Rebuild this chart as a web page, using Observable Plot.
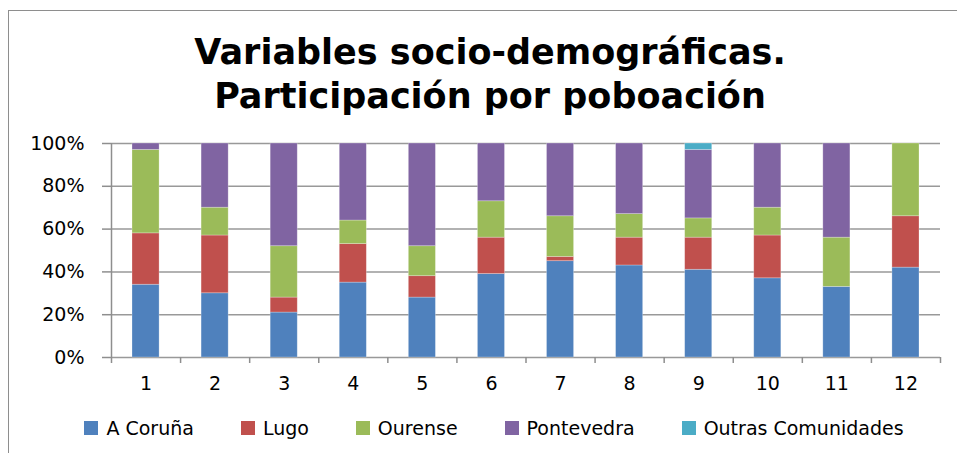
<!DOCTYPE html>
<html>
<head>
<meta charset="utf-8">
<script src="https://cdn.jsdelivr.net/npm/d3@7"></script>
<script src="https://cdn.jsdelivr.net/npm/@observablehq/plot@0.6"></script>
<style>
  html, body { margin: 0; padding: 0; background: #fff; }
  #wrap { position: relative; width: 957px; height: 453px; overflow: hidden; font-family: "DejaVu Sans", sans-serif; }
  #frame { position: absolute; left: 8px; top: 10px; width: 1000px; height: 500px; border-left: 1.5px solid #8e8e8e; border-top: 1.5px solid #8e8e8e; }
  #title { position: absolute; left: 0; top: 30px; width: 980px; text-align: center; font-weight: bold; font-size: 35px; line-height: 44px; color: #000; }
  #chart { position: absolute; left: 0; top: 0; }
  #legend { position: absolute; left: 0; top: 417px; width: 988px; display: flex; justify-content: center; gap: 47px; font-size: 19px; color: #000; align-items: center; }
  .item { display: flex; align-items: center; }
  .sw { width: 14px; height: 14px; margin-right: 8px; }
</style>
</head>
<body>
<div id="wrap">
  <div id="frame"></div>
  <div id="title">Variables socio-demográficas.<br>Participación por poboación</div>
  <div id="chart"></div>
  <div id="legend"></div>
</div>
<script>
const poblacions = [1, 2, 3, 4, 5, 6, 7, 8, 9, 10, 11, 12];
const provincias = ["A Coruña", "Lugo", "Ourense", "Pontevedra", "Outras Comunidades"];
const colores = ["#4F81BD", "#C0504D", "#9BBB59", "#8064A2", "#4BACC6"];
const coruna     = [34, 30, 21, 35, 28, 39, 45, 43, 41, 37, 33, 42];
const lugo       = [24, 27,  7, 18, 10, 17,  2, 13, 15, 20,  0, 24];
const ourense    = [39, 13, 24, 11, 14, 17, 19, 11,  9, 13, 23, 34];
const pontevedra = [ 3, 30, 48, 36, 48, 27, 34, 33, 32, 30, 44,  0];
const outras     = [ 0,  0,  0,  0,  0,  0,  0,  0,  3,  0,  0,  0];
const yTicks = [0, 20, 40, 60, 80, 100];

const series = [coruna, lugo, ourense, pontevedra, outras];
const rows = [];
poblacions.forEach((p, i) => {
  provincias.forEach((prov, j) => {
    rows.push({pob: p, prov, value: series[j][i]});
  });
});
const boundaries = [poblacions[0] - 0.5, ...poblacions.map(p => p + 0.5)];

const plot = Plot.plot({
  width: 957,
  height: 400,
  marginTop: 143,
  marginBottom: 43,
  marginLeft: 111,
  marginRight: 17,
  style: {fontFamily: "DejaVu Sans, sans-serif", fontSize: "19px", color: "#000", background: "transparent"},
  x: {type: "linear", domain: [boundaries[0], boundaries[boundaries.length - 1]]},
  y: {domain: [0, 100]},
  color: {domain: provincias, range: colores},
  marks: [
    Plot.ruleY(yTicks, {stroke: "#999", strokeWidth: 1.5}),
    Plot.rectY(rows, Plot.stackY({
      x1: d => d.pob - 0.5,
      x2: d => d.pob + 0.5,
      y: "value",
      fill: "prov",
      order: provincias,
      insetLeft: 21,
      insetRight: 21,
      stroke: "#fff",
      strokeOpacity: 0.35,
      strokeWidth: 0.75
    })),
    Plot.ruleX([boundaries[0]], {stroke: "#8e8e8e", strokeWidth: 1.5}),
    Plot.axisY({ticks: yTicks, tickFormat: d => d + "%", tickSize: 9, tickPadding: 18, stroke: "#8e8e8e", strokeWidth: 1.5, label: null, fill: "#000"}),
    Plot.axisX({ticks: boundaries, tickFormat: () => "", tickSize: 6, stroke: "#8e8e8e", strokeWidth: 1.5, label: null}),
    Plot.axisX({ticks: poblacions, tickFormat: d => String(d), tickSize: 0, tickPadding: 19, label: null, fill: "#000"})
  ]
});
document.getElementById("chart").appendChild(plot);

const legend = document.getElementById("legend");
provincias.forEach((p, i) => {
  const item = document.createElement("div");
  item.className = "item";
  const sw = document.createElement("span");
  sw.className = "sw";
  sw.style.background = colores[i];
  const t = document.createElement("span");
  t.textContent = p;
  item.appendChild(sw);
  item.appendChild(t);
  legend.appendChild(item);
});
</script>
</body>
</html>
